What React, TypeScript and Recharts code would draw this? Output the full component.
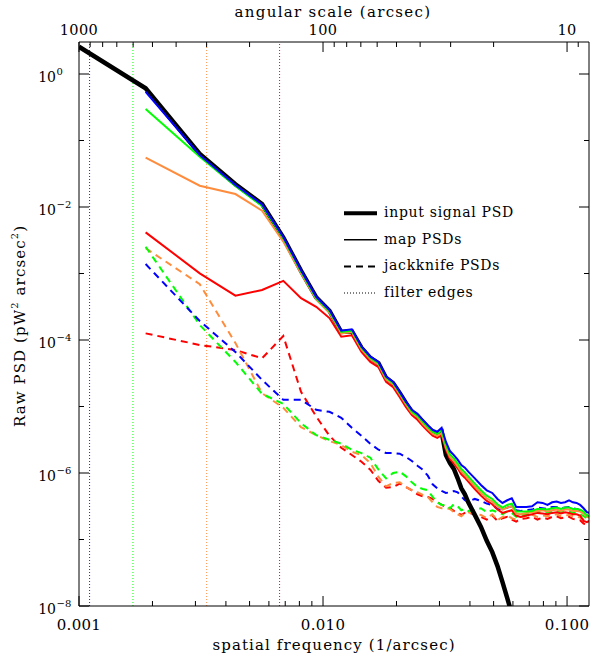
import { ComposedChart, Line, XAxis, YAxis, ReferenceLine } from "recharts";

const FONT = "'DejaVu Serif', serif";

// spatial frequency (1/arcsec) of each PSD sample
const freq = [
  0.001,
  0.001875, 0.003125, 0.004375, 0.005625, 0.006875, 0.008125, 0.009375, 0.010625,
  0.011875, 0.013125, 0.014375, 0.015625, 0.016875, 0.018125, 0.019375, 0.020625,
  0.021875, 0.023125, 0.024375, 0.025625, 0.026875, 0.028125, 0.029375, 0.030625,
  0.031875, 0.033125, 0.034375, 0.035625, 0.036875, 0.038125, 0.039375,
  0.041875, 0.044375, 0.046875, 0.049375, 0.051875, 0.054375, 0.056875, 0.059375,
  0.061875, 0.064375,
  0.068125, 0.071875, 0.075625, 0.079375, 0.083125, 0.086875, 0.090625, 0.094375,
  0.098125, 0.101875, 0.105625, 0.109375, 0.113125, 0.116875, 0.120625, 0.123125,
];

// log10 of the raw PSD (pW^2 arcsec^2)
const inputSignal = [
  0.41,
  -0.215, -1.203, -1.659, -1.955, -2.46, -2.96, -3.36, -3.56,
  -3.88, -3.87, -4.12, -4.27, -4.35, -4.57, -4.65, -4.8,
  -4.95, -5.08, -5.14, -5.23, -5.31, -5.38, -5.41, -5.38,
  -5.73, -5.85, -5.94, -6.08, -6.23, -6.32, -6.44,
  -6.63, -6.81, -7.02, -7.19, -7.4, -7.64, -7.88, -8.12,
  null, null,
  null, null, null, null, null, null, null, null,
  null, null, null, null, null, null, null, null,
];

const mapBlue = [
  null,
  -0.27, -1.22, -1.67, -1.96, -2.45, -2.95, -3.35, -3.55,
  -3.86, -3.84, -4.1, -4.25, -4.33, -4.55, -4.63, -4.78,
  -4.93, -5.05, -5.11, -5.2, -5.28, -5.35, -5.38, -5.32,
  -5.53, -5.67, -5.73, -5.8, -5.88, -5.92, -5.98,
  -6.08, -6.18, -6.26, -6.3, -6.39, -6.45, -6.41, -6.38,
  -6.51, -6.51,
  -6.51, -6.5, -6.44, -6.45, -6.48, -6.44, -6.43, -6.45,
  -6.44, -6.41, -6.44, -6.45, -6.48, -6.53, -6.59, -6.6,
];

const mapGreen = [
  null,
  -0.526, -1.243, -1.685, -1.985, -2.47, -2.97, -3.37, -3.57,
  -3.88, -3.86, -4.12, -4.27, -4.35, -4.57, -4.65, -4.8,
  -4.95, -5.08, -5.14, -5.23, -5.31, -5.38, -5.41, -5.36,
  -5.58, -5.72, -5.78, -5.86, -5.94, -5.99, -6.05,
  -6.16, -6.26, -6.34, -6.39, -6.47, -6.52, -6.48, -6.46,
  -6.58, -6.58,
  -6.58, -6.57, -6.54, -6.54, -6.55, -6.53, -6.52, -6.54,
  -6.52, -6.52, -6.54, -6.54, -6.55, -6.58, -6.64, -6.65,
];

const mapOrange = [
  null,
  -1.258, -1.68, -1.805, -2.055, -2.52, -3.0, -3.39, -3.59,
  -3.9, -3.88, -4.14, -4.29, -4.37, -4.59, -4.67, -4.82,
  -4.97, -5.1, -5.16, -5.26, -5.34, -5.41, -5.44, -5.4,
  -5.62, -5.76, -5.82, -5.9, -5.98, -6.03, -6.09,
  -6.2, -6.3, -6.38, -6.43, -6.5, -6.55, -6.52, -6.5,
  -6.61, -6.62,
  -6.6, -6.59, -6.57, -6.56, -6.58, -6.56, -6.55, -6.57,
  -6.55, -6.55, -6.57, -6.57, -6.58, -6.61, -6.66, -6.67,
];

const mapRed = [
  null,
  -2.381, -2.997, -3.333, -3.248, -3.11, -3.37, -3.5, -3.67,
  -3.95, -3.93, -4.18, -4.33, -4.41, -4.63, -4.71, -4.86,
  -5.01, -5.13, -5.2, -5.29, -5.37, -5.44, -5.47, -5.43,
  -5.65, -5.79, -5.86, -5.93, -6.02, -6.07, -6.13,
  -6.24, -6.34, -6.42, -6.47, -6.55, -6.6, -6.58, -6.56,
  -6.64, -6.66,
  -6.64, -6.62, -6.6, -6.61, -6.62, -6.6, -6.59, -6.61,
  -6.59, -6.6, -6.62, -6.62, -6.64, -6.72, -6.74, -6.72,
];

const jackBlue = [
  null,
  -2.857, -3.714, -4.18, -4.6, -4.9, -4.9, -5.05, -5.08,
  -5.17, -5.32, -5.44, -5.56, -5.65, -5.7, -5.7, -5.71,
  -5.76, -5.82, -5.89, -5.95, -6.04, -6.17, -6.23, -6.27,
  -6.3, -6.29, -6.27, -6.29, -6.35, -6.41, -6.43,
  -6.39, -6.42, -6.46, -6.48, -6.54, -6.55, -6.52, -6.5,
  -6.56, -6.57,
  -6.56, -6.55, -6.52, -6.53, -6.54, -6.51, -6.51, -6.53,
  -6.52, -6.51, -6.53, -6.54, -6.56, -6.6, -6.64, -6.65,
];

const jackGreen = [
  null,
  -2.597, -3.774, -4.33, -4.81, -4.96, -5.25, -5.43, -5.5,
  -5.56, -5.65, -5.7, -5.77, -5.95, -6.08, -6.0, -5.98,
  -6.05, -6.14, -6.21, -6.24, -6.26, -6.36, -6.44, -6.48,
  -6.48, -6.53, -6.47, -6.5, -6.56, -6.54, -6.57,
  -6.56, -6.53, -6.59, -6.56, -6.59, -6.62, -6.58, -6.6,
  -6.66, -6.63,
  -6.62, -6.6, -6.58, -6.6, -6.6, -6.58, -6.57, -6.59,
  -6.58, -6.58, -6.6, -6.6, -6.62, -6.65, -6.68, -6.7,
];

const jackOrange = [
  null,
  -2.62, -3.16, -4.045, -4.8, -5.02, -5.31, -5.43, -5.52,
  -5.58, -5.68, -5.73, -5.85, -6.06, -6.2, -6.15, -6.14,
  -6.21, -6.26, -6.29, -6.33, -6.36, -6.44, -6.51, -6.53,
  -6.53, -6.54, -6.59, -6.62, -6.65, -6.6, -6.59,
  -6.62, -6.63, -6.68, -6.62, -6.71, -6.66, -6.64, -6.68,
  -6.7, -6.66,
  -6.65, -6.63, -6.66, -6.64, -6.65, -6.63, -6.62, -6.65,
  -6.64, -6.63, -6.65, -6.66, -6.67, -6.7, -6.73, -6.74,
];

const jackRed = [
  null,
  -3.9, -4.075, -4.15, -4.275, -3.94, -4.78, -5.15, -5.44,
  -5.62, -5.73, -5.83, -5.95, -6.12, -6.22, -6.21, -6.16,
  -6.21, -6.26, -6.32, -6.35, -6.36, -6.39, -6.44, -6.48,
  -6.51, -6.53, -6.57, -6.6, -6.63, -6.6, -6.59,
  -6.63, -6.66, -6.7, -6.64, -6.72, -6.68, -6.66, -6.7,
  -6.73, -6.69,
  -6.68, -6.66, -6.7, -6.67, -6.69, -6.66, -6.65, -6.68,
  -6.67, -6.66, -6.69, -6.7, -6.71, -6.76, -6.78, -6.77,
];

// filter edges (1/arcsec): blue, green, orange, red
const filterEdges = [0.001105, 0.001664, 0.003336, 0.006637];

const freqTicks = [
  0.001, 0.002, 0.003, 0.004, 0.005, 0.006, 0.007, 0.008, 0.009,
  0.01, 0.02, 0.03, 0.04, 0.05, 0.06, 0.07, 0.08, 0.09, 0.1,
];
const angularTicks = [1000, 900, 800, 700, 600, 500, 400, 300, 200, 100, 90, 80, 70, 60, 50, 40, 30, 20, 10, 9];
const psdTicks = [1e-8, 1e-7, 1e-6, 1e-5, 1e-4, 1e-3, 1e-2, 1e-1, 1];

const BLUE = "#0000ff";
const GREEN = "#00ff00";
const ORANGE = "#ff8c3c";
const RED = "#ff0000";
const edgeColors = ["#2020e0", GREEN, ORANGE, "#e01010"];

const toPsd = (v: number | null) => (v == null ? null : Math.pow(10, v));

const rows = freq.map((f, i) => ({
  freq: f,
  input: toPsd(inputSignal[i]),
  mapRed: toPsd(mapRed[i]),
  mapOrange: toPsd(mapOrange[i]),
  mapGreen: toPsd(mapGreen[i]),
  mapBlue: toPsd(mapBlue[i]),
  jackRed: toPsd(jackRed[i]),
  jackOrange: toPsd(jackOrange[i]),
  jackGreen: toPsd(jackGreen[i]),
  jackBlue: toPsd(jackBlue[i]),
}));

const isDecade = (v: number) => {
  const l = Math.log10(v);
  return Math.abs(l - Math.round(l)) < 1e-6;
};

const BottomTick = (props: any) => {
  const { x, y, payload } = props;
  const major = isDecade(payload.value);
  return (
    <g>
      <line x1={x} x2={x} y1={y} y2={y - (major ? 10 : 5)} stroke="#000" />
      {major && (
        <text x={x} y={y + 24} textAnchor="middle" fontSize={15} fontFamily={FONT} fill="#000" letterSpacing={0.3}>
          {payload.value.toFixed(3)}
        </text>
      )}
    </g>
  );
};

const TopTick = (props: any) => {
  const { x, y, payload } = props;
  const major = isDecade(payload.value);
  return (
    <g>
      <line x1={x} x2={x} y1={y} y2={y + (major ? 10 : 5)} stroke="#000" />
      {major && (
        <text x={x} y={y - 7} textAnchor="middle" fontSize={14.5} fontFamily={FONT} fill="#000" letterSpacing={0.4}>
          {Math.round(1 / payload.value)}
        </text>
      )}
    </g>
  );
};

const LeftTick = (props: any) => {
  const { x, y, payload } = props;
  const e = Math.round(Math.log10(payload.value));
  const major = e % 2 === 0;
  return (
    <g>
      <line x1={x} x2={x + (major ? 10 : 5)} y1={y} y2={y} stroke="#000" />
      {major && (
        <text x={x - 23} y={y + 7.5} textAnchor="end" fontSize={14} fontFamily={FONT} fill="#000">
          10
        </text>
      )}
      {major && (
        <text x={x - 22.5} y={y + 1} textAnchor="start" fontSize={10} fontFamily={FONT} fill="#000">
          {e === 0 ? "0" : `\u2212${-e}`}
        </text>
      )}
    </g>
  );
};

const RightTick = (props: any) => {
  const { x, y, payload } = props;
  const e = Math.round(Math.log10(payload.value));
  const major = e % 2 === 0;
  return <line x1={x} x2={x - (major ? 10 : 5)} y1={y} y2={y} stroke="#000" />;
};

const solid = [
  { key: "mapRed", color: RED },
  { key: "mapOrange", color: ORANGE },
  { key: "mapGreen", color: GREEN },
  { key: "mapBlue", color: BLUE },
];
const dashed = [
  { key: "jackRed", color: RED },
  { key: "jackOrange", color: ORANGE },
  { key: "jackGreen", color: GREEN },
  { key: "jackBlue", color: BLUE },
];

export default function App() {
  return (
    <div style={{ position: "absolute", left: 0, top: 0, width: 590, height: 657, background: "#fff" }}>
      <ComposedChart width={590} height={657} data={rows} margin={{ top: 0, right: 0, bottom: 0, left: 0 }}>
        <XAxis
          xAxisId="bottom"
          dataKey="freq"
          type="number"
          scale="log"
          domain={[0.001, 0.123]}
          allowDataOverflow
          ticks={freqTicks}
          interval={0}
          height={51}
          tickSize={0}
          tickMargin={0}
          tickLine={false}
          tick={<BottomTick />}
          axisLine={{ stroke: "#000" }}
        />
        <XAxis
          xAxisId="top"
          orientation="top"
          dataKey="freq"
          type="number"
          scale="log"
          domain={[0.001, 0.123]}
          allowDataOverflow
          ticks={angularTicks.map((a) => 1 / a)}
          interval={0}
          height={42}
          tickSize={0}
          tickMargin={0}
          tickLine={false}
          tick={<TopTick />}
          axisLine={{ stroke: "#000" }}
        />
        <YAxis
          yAxisId="left"
          type="number"
          scale="log"
          domain={[1e-8, 3.03]}
          allowDataOverflow
          ticks={psdTicks}
          interval={0}
          width={79}
          tickSize={0}
          tickMargin={0}
          tickLine={false}
          tick={<LeftTick />}
          axisLine={{ stroke: "#000" }}
        />
        <YAxis
          yAxisId="right"
          orientation="right"
          type="number"
          scale="log"
          domain={[1e-8, 3.03]}
          allowDataOverflow
          ticks={psdTicks}
          interval={0}
          width={1}
          tickSize={0}
          tickMargin={0}
          tickLine={false}
          tick={<RightTick />}
          axisLine={{ stroke: "#000" }}
        />
        {filterEdges.map((f, i) => (
          <ReferenceLine
            key={f}
            xAxisId="bottom"
            yAxisId="left"
            x={f}
            stroke={edgeColors[i]}
            strokeWidth={1}
            strokeDasharray="1 2"
          />
        ))}
        {dashed.map((s) => (
          <Line
            key={s.key}
            xAxisId="bottom"
            yAxisId="left"
            dataKey={s.key}
            type="linear"
            stroke={s.color}
            strokeWidth={2}
            strokeDasharray="7 5"
            dot={false}
            activeDot={false}
            isAnimationActive={false}
          />
        ))}
        <Line
          xAxisId="bottom"
          yAxisId="left"
          dataKey="input"
          type="linear"
          stroke="#000"
          strokeWidth={4.5}
          dot={false}
          activeDot={false}
          isAnimationActive={false}
        />
        {solid.map((s) => (
          <Line
            key={s.key}
            xAxisId="bottom"
            yAxisId="left"
            dataKey={s.key}
            type="linear"
            stroke={s.color}
            strokeWidth={2}
            dot={false}
            activeDot={false}
            isAnimationActive={false}
          />
        ))}
      </ComposedChart>
      <svg
        width={590}
        height={657}
        style={{ position: "absolute", left: 0, top: 0, pointerEvents: "none" }}
        fontFamily={FONT}
      >
        <text x={333} y={16.5} textAnchor="middle" fontSize={15} letterSpacing={1.3}>
          angular scale (arcsec)
        </text>
        <text x={334} y={650} textAnchor="middle" fontSize={15} letterSpacing={1.1}>
          spatial frequency (1/arcsec)
        </text>
        <text transform="translate(25,326) rotate(-90)" textAnchor="middle" fontSize={15} letterSpacing={1.1}>
          Raw PSD (pW
          <tspan fontSize={10} dy={-7}>2</tspan>
          <tspan dy={7}> arcsec</tspan>
          <tspan fontSize={10} dy={-7}>2</tspan>
          <tspan dy={7}>)</tspan>
        </text>
        <g fontSize={14} letterSpacing={0.7}>
          <line x1={344} x2={377} y1={213.3} y2={213.3} stroke="#000" strokeWidth={4} />
          <text x={384} y={217}>input signal PSD</text>
          <line x1={344} x2={377} y1={239.7} y2={239.7} stroke="#000" strokeWidth={1.5} />
          <text x={384} y={243.5}>map PSDs</text>
          <line x1={344} x2={377} y1={266.5} y2={266.5} stroke="#000" strokeWidth={2} strokeDasharray="7 5" />
          <text x={384} y={270.3}>jackknife PSDs</text>
          <line x1={344} x2={377} y1={293} y2={293} stroke="#000" strokeWidth={1} strokeDasharray="1 2" />
          <text x={384} y={297}>filter edges</text>
        </g>
      </svg>
    </div>
  );
}
